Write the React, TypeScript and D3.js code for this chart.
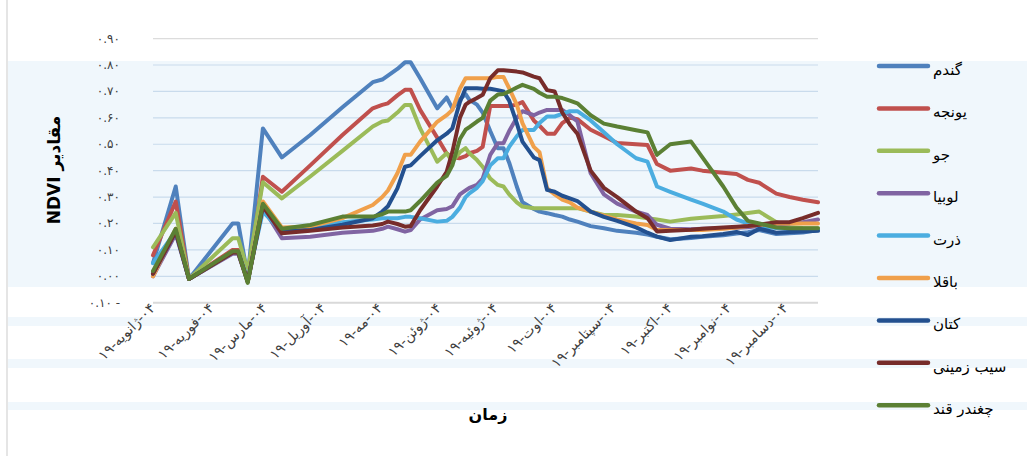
import * as d3 from "d3"

// observation dates (2019)
const dates = [
  "2019-01-04", "2019-01-16", "2019-01-23", "2019-02-15", "2019-02-18", "2019-02-23",
  "2019-03-03", "2019-03-13", "2019-03-28", "2019-04-14", "2019-04-30", "2019-05-05",
  "2019-05-08", "2019-05-13", "2019-05-17", "2019-05-20", "2019-05-25", "2019-06-03",
  "2019-06-08", "2019-06-11", "2019-06-15", "2019-06-18", "2019-06-20", "2019-06-24",
  "2019-06-27", "2019-07-01", "2019-07-05", "2019-07-08", "2019-07-11", "2019-07-15",
  "2019-07-18", "2019-07-24", "2019-07-27", "2019-07-31", "2019-08-04", "2019-08-08",
  "2019-08-12", "2019-08-16", "2019-08-23", "2019-08-30", "2019-09-06", "2019-09-16",
  "2019-09-22", "2019-09-27", "2019-10-04", "2019-10-15", "2019-10-21", "2019-11-01",
  "2019-11-08", "2019-11-14", "2019-11-20", "2019-11-29", "2019-12-06", "2019-12-13",
  "2019-12-21",
]

const wheat = [
  0.05, 0.34, -0.01, 0.2, 0.2, 0.0, 0.56, 0.45, 0.535, 0.64, 0.735, 0.745, 0.76, 0.785,
  0.81, 0.81, 0.75, 0.636, 0.677, 0.636, 0.67, 0.69, 0.668, 0.65, 0.62, 0.55, 0.485,
  0.485, 0.43, 0.34, 0.28, 0.255, 0.245, 0.239, 0.232, 0.226, 0.215, 0.207, 0.19, 0.182,
  0.172, 0.165, 0.158, 0.15, 0.14, 0.145, 0.15, 0.155, 0.162, 0.167, 0.175, 0.16, 0.163,
  0.166, 0.175,
]
const alfalfa = [
  0.08, 0.283, -0.01, 0.1, 0.1, -0.02, 0.377, 0.32, 0.42, 0.535, 0.636, 0.649, 0.655,
  0.685, 0.706, 0.706, 0.63, 0.525, 0.465, 0.45, 0.447, 0.455, 0.466, 0.475, 0.49, 0.645,
  0.645, 0.645, 0.645, 0.65, 0.66, 0.59, 0.57, 0.54, 0.54, 0.58, 0.6, 0.595, 0.555, 0.53,
  0.505, 0.5, 0.497, 0.425, 0.4, 0.408, 0.4, 0.392, 0.387, 0.365, 0.354, 0.313, 0.3, 0.29,
  0.28,
]
const barley = [
  0.11, 0.24, -0.01, 0.144, 0.144, 0.02, 0.356, 0.295, 0.378, 0.475, 0.567, 0.586, 0.59,
  0.62, 0.649, 0.649, 0.56, 0.434, 0.466, 0.434, 0.47, 0.485, 0.466, 0.44, 0.415, 0.37,
  0.346, 0.34, 0.31, 0.28, 0.264, 0.258, 0.258, 0.258, 0.258, 0.258, 0.258, 0.258, 0.245,
  0.232, 0.232, 0.226, 0.22, 0.215, 0.207, 0.218, 0.222, 0.228, 0.234, 0.24, 0.245, 0.205,
  0.186, 0.183, 0.182,
]
const bean = [
  0.0, 0.16, -0.01, 0.085, 0.085, -0.02, 0.26, 0.144, 0.15, 0.165, 0.172, 0.18, 0.188,
  0.178, 0.169, 0.175, 0.215, 0.25, 0.255, 0.265, 0.31, 0.325, 0.335, 0.346, 0.37, 0.46,
  0.504, 0.504, 0.55, 0.6, 0.625, 0.61, 0.62, 0.63, 0.63, 0.63, 0.61, 0.586, 0.39, 0.31,
  0.275, 0.245, 0.232, 0.195, 0.18, 0.178, 0.18, 0.182, 0.184, 0.186, 0.19, 0.195, 0.2,
  0.205, 0.215,
]
const corn = [
  0.05, 0.17, -0.01, 0.09, 0.09, -0.01, 0.245, 0.17, 0.185, 0.205, 0.215, 0.22, 0.22,
  0.22, 0.225, 0.225, 0.22, 0.207, 0.21, 0.225, 0.26, 0.3, 0.314, 0.335, 0.36, 0.42,
  0.447, 0.447, 0.49, 0.53, 0.554, 0.554, 0.58, 0.605, 0.605, 0.615, 0.625, 0.625, 0.59,
  0.545, 0.5, 0.447, 0.434, 0.34, 0.32, 0.29, 0.275, 0.245, 0.215, 0.2, 0.19, 0.183, 0.18,
  0.178, 0.175,
]
const broadBean = [
  0.0, 0.18, -0.01, 0.09, 0.09, -0.02, 0.283, 0.185, 0.188, 0.22, 0.27, 0.3, 0.325, 0.39,
  0.46, 0.46, 0.51, 0.585, 0.61, 0.63, 0.71, 0.75, 0.75, 0.75, 0.75, 0.75, 0.755, 0.755,
  0.712, 0.65, 0.58, 0.49, 0.47, 0.333, 0.31, 0.29, 0.28, 0.26, 0.245, 0.23, 0.215, 0.2,
  0.194, 0.175, 0.175, 0.175, 0.175, 0.18, 0.185, 0.19, 0.195, 0.2, 0.2, 0.2, 0.2,
]
const flax = [
  0.01, 0.17, -0.01, 0.09, 0.09, -0.02, 0.27, 0.17, 0.175, 0.195, 0.22, 0.245, 0.265,
  0.333, 0.415, 0.42, 0.455, 0.515, 0.54, 0.56, 0.66, 0.712, 0.712, 0.712, 0.71, 0.71,
  0.705, 0.7, 0.665, 0.58, 0.51, 0.45, 0.44, 0.327, 0.32, 0.305, 0.295, 0.285, 0.245,
  0.225, 0.21, 0.185, 0.165, 0.15, 0.137, 0.15, 0.152, 0.16, 0.168, 0.156, 0.18, 0.165,
  0.168, 0.17, 0.172,
]
const potato = [
  0.01, 0.17, -0.01, 0.09, 0.09, -0.02, 0.265, 0.163, 0.172, 0.185, 0.192, 0.198, 0.207,
  0.198, 0.188, 0.19, 0.25, 0.34, 0.396, 0.47, 0.6, 0.65, 0.66, 0.675, 0.687, 0.75, 0.78,
  0.78, 0.778, 0.775, 0.772, 0.756, 0.75, 0.705, 0.7, 0.62, 0.575, 0.54, 0.4, 0.335, 0.3,
  0.245, 0.22, 0.17, 0.172, 0.176, 0.18, 0.185, 0.188, 0.19, 0.195, 0.205, 0.205, 0.22,
  0.24,
]
const sugarBeet = [
  0.02, 0.18, -0.01, 0.095, 0.095, -0.025, 0.275, 0.18, 0.194, 0.226, 0.226, 0.235, 0.245,
  0.245, 0.245, 0.25, 0.285, 0.355, 0.38, 0.42, 0.52, 0.555, 0.565, 0.586, 0.6, 0.665,
  0.688, 0.69, 0.7, 0.715, 0.725, 0.71, 0.695, 0.68, 0.68, 0.675, 0.665, 0.655, 0.61,
  0.578, 0.567, 0.553, 0.545, 0.46, 0.5, 0.51, 0.45, 0.34, 0.26, 0.21, 0.2, 0.185, 0.182,
  0.182, 0.182,
]

const seriesNames = ["گندم", "یونجه", "جو", "لوبیا", "ذرت", "باقلا", "کتان", "سیب زمینی", "چغندر قند"]
const seriesValues = [wheat, alfalfa, barley, bean, corn, broadBean, flax, potato, sugarBeet]
const seriesColors = [
  "#4f81bd", "#c0504d", "#9bbb59", "#8064a2", "#4bade0",
  "#f0a04b", "#23508f", "#772c2a", "#5b8034",
]

const monthNames = [
  "ژانویه", "فوریه", "مارس", "آوریل", "مه", "ژوئن",
  "ژوئیه", "اوت", "سپتامبر", "اکتبر", "نوامبر", "دسامبر",
]
const yTicks = [0.9, 0.8, 0.7, 0.6, 0.5, 0.4, 0.3, 0.2, 0.1, 0.0, -0.1]

const W = 1027
const H = 456
const FONT = "'DejaVu Sans', sans-serif"

const faDigits = (s: string) => s.replace(/\d/g, d => "۰۱۲۳۴۵۶۷۸۹"[+d])
const fmtY = (v: number) => {
  const s = faDigits(d3.format(".2f")(Math.abs(v)))
  return v < -1e-9 ? "- " + s : s
}

export default function App() {
  const parse = d3.timeParse("%Y-%m-%d")
  const xs = dates.map(d => parse(d) as Date)

  const x = d3.scaleTime().domain([xs[0], xs[xs.length - 1]]).range([153, 818])
  const y = d3.scaleLinear().domain([-0.1, 0.9]).range([302.7, 38.6])

  const line = d3.line<number>()
    .x((_, i) => x(xs[i]))
    .y(d => y(d))

  const monthTicks = monthNames.map((_, i) => new Date(2019, i, 4))

  const legendY = (i: number) => 66 + i * 42.4

  return (
    <>
      <style>{`body{margin:0}`}</style>
      <svg width={W} height={H} style={{ display: "block", background: "#fff" }}>
        {/* page shading bands */}
        <rect x={8} y={61} width={W - 8} height={226} fill="#f0f7fc" />
        <rect x={8} y={317} width={W - 8} height={9} fill="#f0f7fc" />
        <rect x={8} y={359} width={W - 8} height={9} fill="#f0f7fc" />
        <rect x={8} y={402} width={W - 8} height={8} fill="#f0f7fc" />
        <line x1={7} x2={7} y1={0} y2={H} stroke="#d4d4d4" strokeWidth={1.2} />

        {/* gridlines */}
        {yTicks.map(t => {
          const yy = y(t)
          const outside = yy < 61 || yy > 287
          return (
            <line key={t} x1={153} x2={818} y1={yy} y2={yy}
              stroke={t === -0.1 ? "#d9d9d9" : outside ? "#dcdcdc" : "#c9dbec"}
              strokeWidth={t === -0.1 ? 2 : 1.2} />
          )
        })}

        {/* y tick labels */}
        {yTicks.map(t => (
          <text key={"l" + t} x={120} y={y(t) + 4} fontSize={12} fontFamily={FONT}
            fill="#404040" direction="rtl" textAnchor="start">
            {fmtY(t)}
          </text>
        ))}

        {/* x tick labels */}
        {monthTicks.map((d, i) => (
          <text key={i} transform={`translate(${x(d) + 3},${309}) rotate(-45)`}
            fontSize={14} fontFamily={FONT} fill="#404040" direction="rtl" textAnchor="start">
            {`۰۴-${monthNames[i]}-۱۹`}
          </text>
        ))}

        {/* series */}
        {seriesValues.map((vals, i) => (
          <path key={seriesNames[i]} d={line(vals) ?? ""} fill="none"
            stroke={seriesColors[i]} strokeWidth={4}
            strokeLinejoin="round" strokeLinecap="round" />
        ))}

        {/* axis titles */}
        <text transform="translate(60,170) rotate(-90)" textAnchor="middle"
          direction="rtl" fontSize={17} fontWeight="bold" fontFamily={FONT} fill="#000">
          مقادیر NDVI
        </text>
        <text x={488} y={420} textAnchor="middle" fontSize={16} fontWeight="bold"
          fontFamily={FONT} fill="#000">
          زمان
        </text>

        {/* legend */}
        {seriesNames.map((n, i) => (
          <g key={"lg" + n}>
            <line x1={879} x2={928} y1={legendY(i)} y2={legendY(i)}
              stroke={seriesColors[i]} strokeWidth={4.5} strokeLinecap="round" />
            <text x={933} y={legendY(i) + 9} fontSize={15} fontFamily={FONT} fill="#000">
              {n}
            </text>
          </g>
        ))}
      </svg>
    </>
  )
}
